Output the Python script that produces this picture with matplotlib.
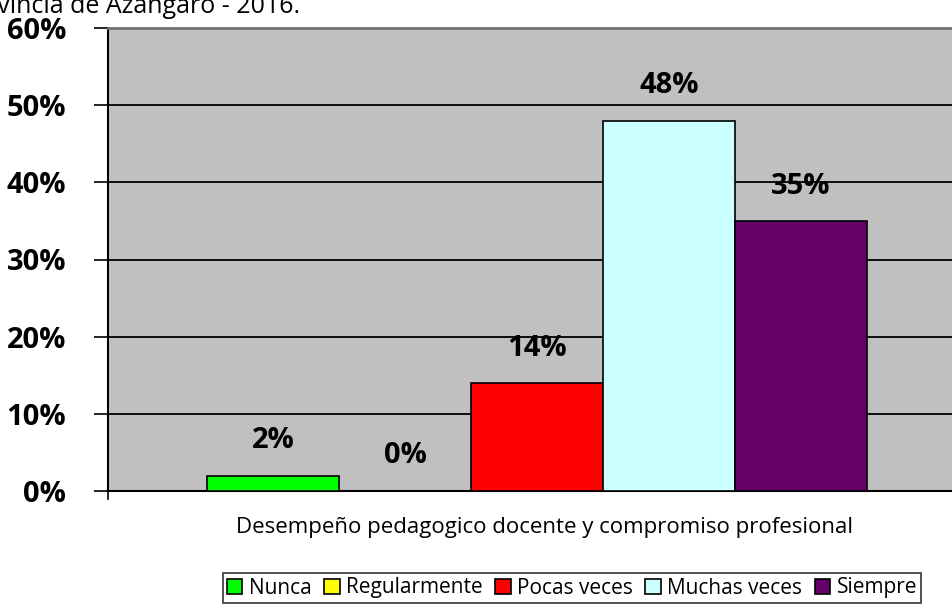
import matplotlib
matplotlib.use("Agg")
import matplotlib.pyplot as plt
from matplotlib.patches import Patch

categories = ["Nunca", "Regularmente", "Pocas veces", "Muchas veces", "Siempre"]
values = [2, 0, 14, 48, 35]
labels = ["2%", "0%", "14%", "48%", "35%"]
colors = ["#00FF00", "#FFFF00", "#FF0000", "#CCFFFF", "#660066"]
yticks = [0, 10, 20, 30, 40, 50, 60]
xlabel = "Desempeño pedagogico docente y compromiso profesional"
title = "Provincia de Azángaro - 2016."

plt.rcParams['font.family'] = ['Open Sans', 'DejaVu Sans']

W, H = 953, 610
fig = plt.figure(figsize=(W / 100, H / 100), dpi=100)
ax = fig.add_axes([108 / W, 119 / H, 858 / W, 463 / H])
ax.set_facecolor("#C0C0C0")

bw = 1.0
xs = [i for i in range(len(values))]
ax.bar(xs, values, width=bw, color=colors, edgecolor="black", linewidth=1.2, zorder=3)
ax.set_xlim(-0.5 - 0.75, len(values) - 0.5 + 0.75)
ax.set_ylim(0, 60)

for y in yticks[1:-1]:
    ax.axhline(y, color="black", linewidth=1.3, zorder=1)

ax.set_yticks(yticks)
ax.set_yticklabels([f"{t}%" for t in yticks], fontsize=21, fontweight="bold")
ax.tick_params(axis="y", length=10, width=1.2, direction="out", pad=20)
ax.set_xticks([])

ax.spines["top"].set_color("#707070")
ax.spines["top"].set_linewidth(2)
ax.spines["right"].set_visible(False)
ax.spines["left"].set_linewidth(1.5)
ax.spines["bottom"].set_linewidth(1.5)

# small tick below axis origin
ax.plot([-1.25, -1.25], [0, -1.0], color="black", linewidth=1.2, clip_on=False)

for x, v, lab in zip(xs, values, labels):
    off = 4.5 if v > 0 else 4.6
    ax.text(x, v + off, lab, ha="center", va="center", fontsize=21, fontweight="bold", zorder=4)

fig.text(545 / W, 1 - 528 / H, xlabel, ha="center", va="center", fontsize=16)
fig.text(300 / W, 1 - 13 / H, title, ha="right", va="baseline", fontsize=18)

handles = [Patch(facecolor=c, edgecolor="black", linewidth=1.2) for c in colors]
leg = fig.legend(handles, categories, loc="center", bbox_to_anchor=(572 / W, 1 - 588 / H),
                 ncol=5, fontsize=15, frameon=True, fancybox=False, edgecolor="black",
                 handlelength=0.75, handleheight=0.75, handletextpad=0.3, columnspacing=0.6,
                 borderpad=0.2, borderaxespad=0)
leg.get_frame().set_linewidth(1.2)

fig.savefig("out.png", dpi=100)
